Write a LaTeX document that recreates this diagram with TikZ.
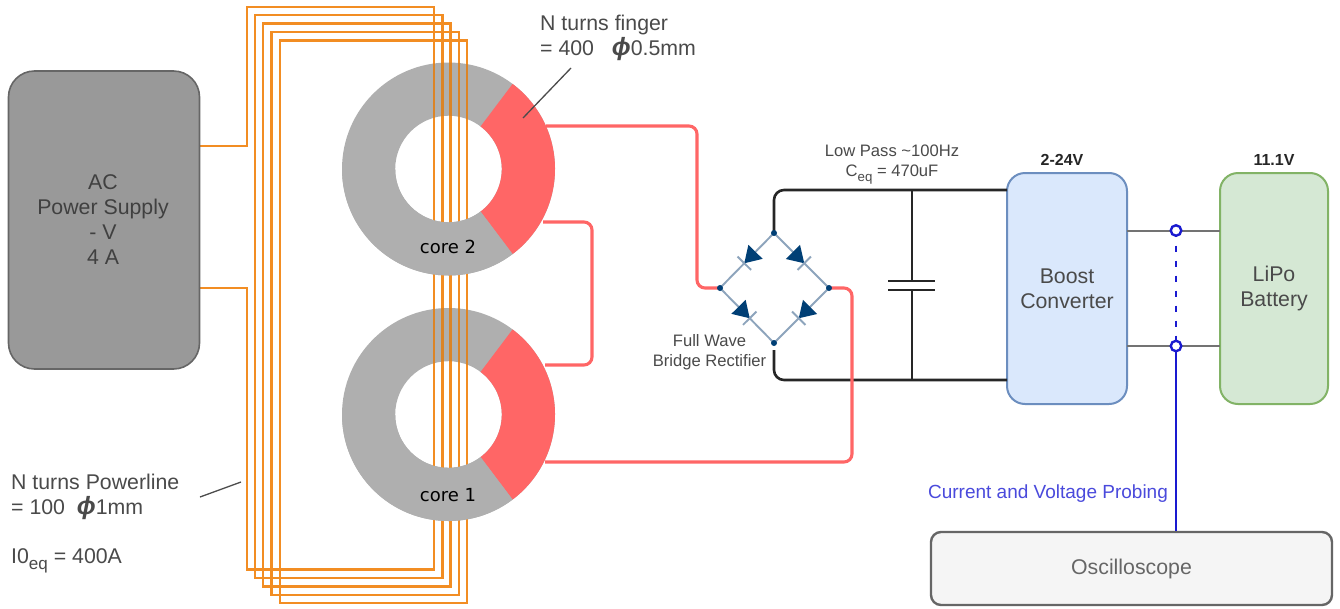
\documentclass[tikz,border=0pt]{standalone}
\usepackage{fontspec}
\setmainfont{Liberation Sans}
\newfontfamily\corefont{DejaVu Sans}
\usetikzlibrary{calc}
\definecolor{wireorange}{HTML}{F28D23}
\definecolor{wiredark}{HTML}{DB8427}
\definecolor{coregray}{HTML}{AFAFAF}
\definecolor{corered}{HTML}{FF6666}
\definecolor{navy}{HTML}{003F75}
\definecolor{bridge}{HTML}{8DA4BC}
\definecolor{txt}{HTML}{4A4A4A}
\definecolor{probe}{HTML}{1A1AD0}
\definecolor{probetxt}{HTML}{4A4ADC}
\definecolor{blockbluefill}{HTML}{DAE8FC}
\definecolor{blockgreenfill}{HTML}{D5E8D4}
\definecolor{blockblueline}{HTML}{6C8EBF}
\definecolor{blockgreenline}{HTML}{82B366}
\definecolor{psufill}{HTML}{999999}
\tikzset{
  orangewire/.style={draw=wireorange,line width=2.7pt,line join=miter},
  redwire/.style={draw=corered,line width=3.1pt,rounded corners=8pt},
  blackwire/.style={draw=black!85,line width=2.6pt,rounded corners=10pt},
  graywire/.style={draw=black!55,line width=1.9pt},
  leader/.style={draw=black!70,line width=1.3pt},
  bluewire/.style={draw=probe,line width=2.8pt},
  bluedot/.style={circle,draw=probe,line width=2.4pt,fill=white,inner sep=0pt,minimum size=10.5pt},
  tiny dot/.style={circle,fill=navy,inner sep=0pt,minimum size=6pt},
  label/.style={text=txt,inner sep=0pt,align=center},
  lefttext/.style={text=txt,inner sep=0pt,align=left},
  psu/.style={draw=black!60,line width=1.6pt,fill=psufill,rounded corners=26pt},
  blockblue/.style={draw=blockblueline,line width=2pt,fill=blockbluefill,rounded corners=18pt},
  blockgreen/.style={draw=blockgreenline,line width=2pt,fill=blockgreenfill,rounded corners=18pt},
  scopebox/.style={draw=black!60,line width=2.4pt,fill=black!4,rounded corners=10pt},
  smalltext/.style={font=\fontsize{16.6}{20}\selectfont},
  coretext/.style={font=\corefont\fontsize{18}{21}\selectfont,text=black,inner sep=0pt},
  volttext/.style={text=black!85,inner sep=0pt,font=\bfseries\fontsize{16}{18}\selectfont},
}
\newcommand{\corering}[2]{%
  \fill[coregray,even odd rule] (#1,#2) circle[radius=106.5] (#1,#2) circle[radius=53.3];
  \fill[corered] ($(#1,#2)+(-53:106.5)$) arc[start angle=-53,end angle=53,radius=106.5]
     -- ($(#1,#2)+(53:53.3)$) arc[start angle=53,end angle=-53,radius=53.3] -- cycle;
}
\newcommand{\lowerring}[2]{%
  \fill[coregray] ($(#1,#2)+(53:106.5)$) arc[start angle=53,end angle=180,radius=106.5]
     -- (#1-53.3,#2) arc[start angle=180,end angle=53,radius=53.3] -- cycle;
}
\newcommand{\diode}[2]{%
  \coordinate (P) at ($(#1)!0.55!(#2)$);
  \coordinate (Q) at ($(P)!16pt!(#1)$);
  \fill[navy] (P) -- ($(Q)!10pt!90:(P)$) -- ($(Q)!10pt!-90:(P)$) -- cycle;
  \draw[bridge,line width=1.9pt] ($(P)!9.5pt!90:(#1)$) -- ($(P)!9.5pt!-90:(#1)$);
}
\newcommand{\phisym}{{\fontsize{25}{25}\selectfont\bfseries\itshape ϕ}}
\newcommand{\eqsub}{\raisebox{-.3em}{\fontsize{.8em}{1em}\selectfont eq}}
\begin{document}
\begin{tikzpicture}[x=1pt,y=-1pt,every node/.style={font=\fontsize{21.3}{25}\selectfont}]
\useasboundingbox[fill=white] (0,0) rectangle (1340,608);
% cores
\corering{448.5}{169}
\corering{448.5}{414.5}
\draw[coregray!85!white,line width=.6pt] (342,415) -- (377,415);
% orange windings
\foreach \l/\t/\r/\b in {255/15/442.7/578,263/23.7/450.5/586.7,271.7/32/459/595,280/40.7/467/603}{
  \draw[orangewire] (\l,\t) -- (\r,\t) -- (\r,\b) -- (\l,\b) -- cycle;
}
\coordinate (w1) at (199,146);
\coordinate (w2) at (199,288);
\draw[orangewire] (w1) -- (247,146) -- (247,7) -- (434,7) -- (434,569.3) -- (247,569.3) -- (247,288) -- (w2);
% darker overlay on upper ring halves
\begin{scope}[even odd rule]
  \clip (448.5,169) circle[radius=106.5] (448.5,169) circle[radius=53.3];
  \foreach \r in {434,442.7,450.5,459,467}{\draw[wiredark,line width=2.7pt] (\r,0) -- (\r,169);}
\end{scope}
\begin{scope}[even odd rule]
  \clip (448.5,414.5) circle[radius=106.5] (448.5,414.5) circle[radius=53.3];
  \foreach \r in {434,442.7,450.5,459,467}{\draw[wiredark,line width=2.7pt] (\r,300) -- (\r,414.5);}
\end{scope}
\lowerring{448.5}{169}
\lowerring{448.5}{414.5}
\node[coretext] (core2) at (448,247) {core 2};
\node[coretext] (core1) at (448,495) {core 1};
% power supply
\node[psu,minimum width=191pt,minimum height=298pt,inner sep=0pt] (ac) at (104,220) {};
\node[text=black!75,align=center,inner sep=0pt] (actext) at (103,220) {AC\\Power Supply\\- V\\4 A};
% bridge nodes
\coordinate (bl) at (720,288);
\coordinate (bt) at (774,233);
\coordinate (br) at (829,288);
\coordinate (bb) at (774,343);
\coordinate (r1) at (546,126);
\coordinate (r2) at (543,222);
\coordinate (r3) at (545,365);
\coordinate (r4) at (545,462);
\draw[redwire] (r1) -- (697,126) -- (697,288) -- (bl);
\draw[redwire] (r2) -- (592,222) -- (592,365) -- (r3);
% boost etc
\node[blockblue,minimum width=120pt,minimum height=231pt,inner sep=0pt] (boost) at (1067,288.5) {};
\node[blockgreen,minimum width=108pt,minimum height=231pt,inner sep=0pt] (lipo) at (1274,288.5) {};
\node[label] (boosttext) at (1067,288.5) {Boost\\Converter};
\node[label] (lipotext) at (1274,288.5) {LiPo\\Battery};
\node[volttext] (v1) at (1062,160) {2-24V};
\node[volttext] (v2) at (1274,160) {11.1V};
% black rail
\coordinate (capt) at (912,190);
\coordinate (capb) at (912,380);
\coordinate (plt) at (912,281);
\coordinate (plb) at (912,290);
\coordinate (rail) at (774,350);
\draw[blackwire] (bt) -- (774,190) -- (1007,190);
\draw[blackwire] (rail) -- (774,380) -- (1007,380);
\draw[black!85,line width=2.4pt] (capt) -- (plt) (plb) -- (capb);
\draw[black!85,line width=2.4pt] (888,281) -- (935,281) (888,290) -- (935,290);
\draw[redwire] (r4) -- (852,462) -- (852,288) -- (br);
% bridge
\draw[bridge,line width=1.9pt] (bl) -- (bt) -- (br) -- (bb) -- cycle;
\diode{bt}{bl}
\diode{bt}{br}
\diode{bl}{bb}
\diode{br}{bb}
\foreach \n in {bl,bt,br,bb}{\node[tiny dot] at (\n) {};}
% probes
\node[scopebox,minimum width=401pt,minimum height=73pt,inner sep=0pt] (osc) at (1131.5,568.5) {};
\node[text=black!60,inner sep=0pt] (osctext) at (1131.5,569) {Oscilloscope};
\coordinate (pa) at (1176,230.5);
\coordinate (pb) at (1176,346);
\draw[graywire] (1127,231) -- (1220,231);
\draw[graywire] (1127,346) -- (1220,346);
\draw[bluewire,dash pattern=on 6pt off 9pt] (pa) -- (pb);
\draw[bluewire] (pb) -- (osc.north -| pb);
\node[bluedot] at (pa) {};
\node[bluedot] at (pb) {};
\node[text=probetxt,inner sep=0pt,font=\fontsize{19}{22}\selectfont] (probetext) at (1048,493.5) {Current and Voltage Probing};
% labels
\node[label,smalltext] (lp) at (892,164.5) {Low Pass \textasciitilde100Hz\\C\eqsub{} = 470uF};
\node[label,smalltext] (fw) at (709.5,352) {Full Wave\\Bridge Rectifier};
\node[lefttext,anchor=north west] (nf) at (540,15) {N turns finger\\= 400\ \ \ \phisym 0.5mm};
\node[lefttext,anchor=north west] (np) at (11,473.5) {N turns Powerline\\= 100\ \ \phisym 1mm\\[24pt]I0\eqsub{} = 400A};
\coordinate (la) at (523,118);
\coordinate (lb) at (571,68);
\draw[leader] (la) -- (lb);
\coordinate (lc) at (200,497);
\coordinate (ld) at (241,482);
\draw[leader] (lc) -- (ld);
\end{tikzpicture}
\end{document}
